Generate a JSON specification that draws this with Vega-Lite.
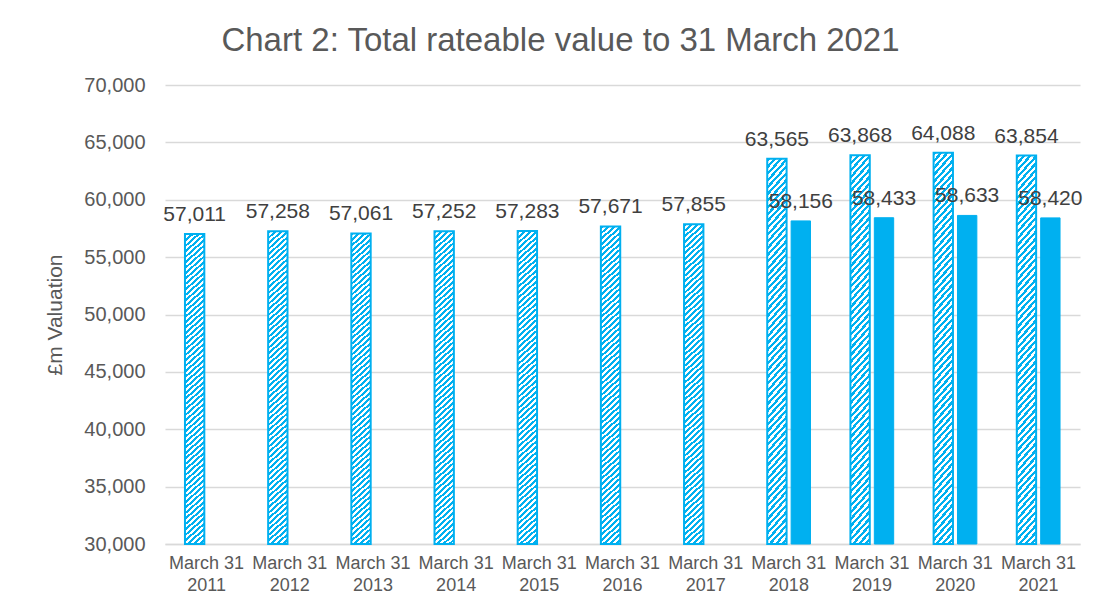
{
  "$schema": "https://vega.github.io/schema/vega-lite/v6.json",
  "width": 915,
  "height": 459,
  "autosize": {"type": "none"},
  "padding": {"left": 165, "top": 85, "right": 21, "bottom": 63},
  "background": "white",
  "config": {
    "font": "Liberation Sans",
    "view": {"stroke": null}
  },
  "title": {
    "text": "Chart 2: Total rateable value to 31 March 2021",
    "fontSize": 33,
    "fontWeight": "normal",
    "color": "#595959",
    "anchor": "middle",
    "dx": -62,
    "offset": 17
  },
  "data": {
    "values": [
      {"year": "2011", "series": "2010 list", "value": 57011},
      {"year": "2012", "series": "2010 list", "value": 57258},
      {"year": "2013", "series": "2010 list", "value": 57061},
      {"year": "2014", "series": "2010 list", "value": 57252},
      {"year": "2015", "series": "2010 list", "value": 57283},
      {"year": "2016", "series": "2010 list", "value": 57671},
      {"year": "2017", "series": "2010 list", "value": 57855},
      {"year": "2018", "series": "2010 list", "value": 63565},
      {"year": "2019", "series": "2010 list", "value": 63868},
      {"year": "2020", "series": "2010 list", "value": 64088},
      {"year": "2021", "series": "2010 list", "value": 63854},
      {"year": "2018", "series": "2017 list", "value": 58156},
      {"year": "2019", "series": "2017 list", "value": 58433},
      {"year": "2020", "series": "2017 list", "value": 58633},
      {"year": "2021", "series": "2017 list", "value": 58420}
    ]
  },
  "encoding": {
    "x": {
      "field": "year",
      "type": "nominal",
      "sort": null,
      "scale": {"paddingInner": 0.48, "paddingOuter": 0.24},
      "axis": {
        "title": null,
        "labelAngle": 0,
        "labelExpr": "['March 31', datum.label]",
        "labelFontSize": 18,
        "labelColor": "#595959",
        "labelLineHeight": 22,
        "labelPadding": 10,
        "ticks": false,
        "domainColor": "#D9D9D9",
        "domainWidth": 1.5
      }
    },
    "xOffset": {
      "field": "series",
      "type": "nominal",
      "scale": {"domain": ["2010 list", "2017 list"], "paddingInner": 0.19}
    },
    "y": {
      "field": "value",
      "type": "quantitative",
      "scale": {"domain": [30000, 70000], "nice": false, "zero": false},
      "axis": {
        "title": "£m Valuation",
        "titleFontSize": 21,
        "titleFontWeight": "normal",
        "titleColor": "#595959",
        "titlePadding": 18,
        "values": [30000, 35000, 40000, 45000, 50000, 55000, 60000, 65000, 70000],
        "labelExpr": "format(datum.value, ',')",
        "labelFontSize": 20,
        "labelColor": "#595959",
        "labelPadding": 20,
        "ticks": false,
        "domain": false,
        "gridColor": "#D9D9D9",
        "gridWidth": 1.5
      }
    }
  },
  "layer": [
    {
      "transform": [{"filter": "datum.series === '2010 list'"}],
      "mark": {
        "type": "bar",
        "stroke": "#00B0F0",
        "strokeWidth": 2,
        "fill": {
          "gradient": "linear",
          "x1": 0, "y1": 0, "x2": 0.05846, "y2": 1.05231,
          "stops": [
            {"offset":0,"color":"#00b0f0"},{"offset":0.0083,"color":"#00b0f0"},{"offset":0.0083,"color":"#fff"},{"offset":0.0167,"color":"#fff"},
            {"offset":0.0167,"color":"#00b0f0"},{"offset":0.025,"color":"#00b0f0"},{"offset":0.025,"color":"#fff"},{"offset":0.0333,"color":"#fff"},
            {"offset":0.0333,"color":"#00b0f0"},{"offset":0.0417,"color":"#00b0f0"},{"offset":0.0417,"color":"#fff"},{"offset":0.05,"color":"#fff"},
            {"offset":0.05,"color":"#00b0f0"},{"offset":0.0583,"color":"#00b0f0"},{"offset":0.0583,"color":"#fff"},{"offset":0.0667,"color":"#fff"},
            {"offset":0.0667,"color":"#00b0f0"},{"offset":0.075,"color":"#00b0f0"},{"offset":0.075,"color":"#fff"},{"offset":0.0833,"color":"#fff"},
            {"offset":0.0833,"color":"#00b0f0"},{"offset":0.0917,"color":"#00b0f0"},{"offset":0.0917,"color":"#fff"},{"offset":0.1,"color":"#fff"},
            {"offset":0.1,"color":"#00b0f0"},{"offset":0.1083,"color":"#00b0f0"},{"offset":0.1083,"color":"#fff"},{"offset":0.1167,"color":"#fff"},
            {"offset":0.1167,"color":"#00b0f0"},{"offset":0.125,"color":"#00b0f0"},{"offset":0.125,"color":"#fff"},{"offset":0.1333,"color":"#fff"},
            {"offset":0.1333,"color":"#00b0f0"},{"offset":0.1417,"color":"#00b0f0"},{"offset":0.1417,"color":"#fff"},{"offset":0.15,"color":"#fff"},
            {"offset":0.15,"color":"#00b0f0"},{"offset":0.1583,"color":"#00b0f0"},{"offset":0.1583,"color":"#fff"},{"offset":0.1667,"color":"#fff"},
            {"offset":0.1667,"color":"#00b0f0"},{"offset":0.175,"color":"#00b0f0"},{"offset":0.175,"color":"#fff"},{"offset":0.1833,"color":"#fff"},
            {"offset":0.1833,"color":"#00b0f0"},{"offset":0.1917,"color":"#00b0f0"},{"offset":0.1917,"color":"#fff"},{"offset":0.2,"color":"#fff"},
            {"offset":0.2,"color":"#00b0f0"},{"offset":0.2083,"color":"#00b0f0"},{"offset":0.2083,"color":"#fff"},{"offset":0.2167,"color":"#fff"},
            {"offset":0.2167,"color":"#00b0f0"},{"offset":0.225,"color":"#00b0f0"},{"offset":0.225,"color":"#fff"},{"offset":0.2333,"color":"#fff"},
            {"offset":0.2333,"color":"#00b0f0"},{"offset":0.2417,"color":"#00b0f0"},{"offset":0.2417,"color":"#fff"},{"offset":0.25,"color":"#fff"},
            {"offset":0.25,"color":"#00b0f0"},{"offset":0.2583,"color":"#00b0f0"},{"offset":0.2583,"color":"#fff"},{"offset":0.2667,"color":"#fff"},
            {"offset":0.2667,"color":"#00b0f0"},{"offset":0.275,"color":"#00b0f0"},{"offset":0.275,"color":"#fff"},{"offset":0.2833,"color":"#fff"},
            {"offset":0.2833,"color":"#00b0f0"},{"offset":0.2917,"color":"#00b0f0"},{"offset":0.2917,"color":"#fff"},{"offset":0.3,"color":"#fff"},
            {"offset":0.3,"color":"#00b0f0"},{"offset":0.3083,"color":"#00b0f0"},{"offset":0.3083,"color":"#fff"},{"offset":0.3167,"color":"#fff"},
            {"offset":0.3167,"color":"#00b0f0"},{"offset":0.325,"color":"#00b0f0"},{"offset":0.325,"color":"#fff"},{"offset":0.3333,"color":"#fff"},
            {"offset":0.3333,"color":"#00b0f0"},{"offset":0.3417,"color":"#00b0f0"},{"offset":0.3417,"color":"#fff"},{"offset":0.35,"color":"#fff"},
            {"offset":0.35,"color":"#00b0f0"},{"offset":0.3583,"color":"#00b0f0"},{"offset":0.3583,"color":"#fff"},{"offset":0.3667,"color":"#fff"},
            {"offset":0.3667,"color":"#00b0f0"},{"offset":0.375,"color":"#00b0f0"},{"offset":0.375,"color":"#fff"},{"offset":0.3833,"color":"#fff"},
            {"offset":0.3833,"color":"#00b0f0"},{"offset":0.3917,"color":"#00b0f0"},{"offset":0.3917,"color":"#fff"},{"offset":0.4,"color":"#fff"},
            {"offset":0.4,"color":"#00b0f0"},{"offset":0.4083,"color":"#00b0f0"},{"offset":0.4083,"color":"#fff"},{"offset":0.4167,"color":"#fff"},
            {"offset":0.4167,"color":"#00b0f0"},{"offset":0.425,"color":"#00b0f0"},{"offset":0.425,"color":"#fff"},{"offset":0.4333,"color":"#fff"},
            {"offset":0.4333,"color":"#00b0f0"},{"offset":0.4417,"color":"#00b0f0"},{"offset":0.4417,"color":"#fff"},{"offset":0.45,"color":"#fff"},
            {"offset":0.45,"color":"#00b0f0"},{"offset":0.4583,"color":"#00b0f0"},{"offset":0.4583,"color":"#fff"},{"offset":0.4667,"color":"#fff"},
            {"offset":0.4667,"color":"#00b0f0"},{"offset":0.475,"color":"#00b0f0"},{"offset":0.475,"color":"#fff"},{"offset":0.4833,"color":"#fff"},
            {"offset":0.4833,"color":"#00b0f0"},{"offset":0.4917,"color":"#00b0f0"},{"offset":0.4917,"color":"#fff"},{"offset":0.5,"color":"#fff"},
            {"offset":0.5,"color":"#00b0f0"},{"offset":0.5083,"color":"#00b0f0"},{"offset":0.5083,"color":"#fff"},{"offset":0.5167,"color":"#fff"},
            {"offset":0.5167,"color":"#00b0f0"},{"offset":0.525,"color":"#00b0f0"},{"offset":0.525,"color":"#fff"},{"offset":0.5333,"color":"#fff"},
            {"offset":0.5333,"color":"#00b0f0"},{"offset":0.5417,"color":"#00b0f0"},{"offset":0.5417,"color":"#fff"},{"offset":0.55,"color":"#fff"},
            {"offset":0.55,"color":"#00b0f0"},{"offset":0.5583,"color":"#00b0f0"},{"offset":0.5583,"color":"#fff"},{"offset":0.5667,"color":"#fff"},
            {"offset":0.5667,"color":"#00b0f0"},{"offset":0.575,"color":"#00b0f0"},{"offset":0.575,"color":"#fff"},{"offset":0.5833,"color":"#fff"},
            {"offset":0.5833,"color":"#00b0f0"},{"offset":0.5917,"color":"#00b0f0"},{"offset":0.5917,"color":"#fff"},{"offset":0.6,"color":"#fff"},
            {"offset":0.6,"color":"#00b0f0"},{"offset":0.6083,"color":"#00b0f0"},{"offset":0.6083,"color":"#fff"},{"offset":0.6167,"color":"#fff"},
            {"offset":0.6167,"color":"#00b0f0"},{"offset":0.625,"color":"#00b0f0"},{"offset":0.625,"color":"#fff"},{"offset":0.6333,"color":"#fff"},
            {"offset":0.6333,"color":"#00b0f0"},{"offset":0.6417,"color":"#00b0f0"},{"offset":0.6417,"color":"#fff"},{"offset":0.65,"color":"#fff"},
            {"offset":0.65,"color":"#00b0f0"},{"offset":0.6583,"color":"#00b0f0"},{"offset":0.6583,"color":"#fff"},{"offset":0.6667,"color":"#fff"},
            {"offset":0.6667,"color":"#00b0f0"},{"offset":0.675,"color":"#00b0f0"},{"offset":0.675,"color":"#fff"},{"offset":0.6833,"color":"#fff"},
            {"offset":0.6833,"color":"#00b0f0"},{"offset":0.6917,"color":"#00b0f0"},{"offset":0.6917,"color":"#fff"},{"offset":0.7,"color":"#fff"},
            {"offset":0.7,"color":"#00b0f0"},{"offset":0.7083,"color":"#00b0f0"},{"offset":0.7083,"color":"#fff"},{"offset":0.7167,"color":"#fff"},
            {"offset":0.7167,"color":"#00b0f0"},{"offset":0.725,"color":"#00b0f0"},{"offset":0.725,"color":"#fff"},{"offset":0.7333,"color":"#fff"},
            {"offset":0.7333,"color":"#00b0f0"},{"offset":0.7417,"color":"#00b0f0"},{"offset":0.7417,"color":"#fff"},{"offset":0.75,"color":"#fff"},
            {"offset":0.75,"color":"#00b0f0"},{"offset":0.7583,"color":"#00b0f0"},{"offset":0.7583,"color":"#fff"},{"offset":0.7667,"color":"#fff"},
            {"offset":0.7667,"color":"#00b0f0"},{"offset":0.775,"color":"#00b0f0"},{"offset":0.775,"color":"#fff"},{"offset":0.7833,"color":"#fff"},
            {"offset":0.7833,"color":"#00b0f0"},{"offset":0.7917,"color":"#00b0f0"},{"offset":0.7917,"color":"#fff"},{"offset":0.8,"color":"#fff"},
            {"offset":0.8,"color":"#00b0f0"},{"offset":0.8083,"color":"#00b0f0"},{"offset":0.8083,"color":"#fff"},{"offset":0.8167,"color":"#fff"},
            {"offset":0.8167,"color":"#00b0f0"},{"offset":0.825,"color":"#00b0f0"},{"offset":0.825,"color":"#fff"},{"offset":0.8333,"color":"#fff"},
            {"offset":0.8333,"color":"#00b0f0"},{"offset":0.8417,"color":"#00b0f0"},{"offset":0.8417,"color":"#fff"},{"offset":0.85,"color":"#fff"},
            {"offset":0.85,"color":"#00b0f0"},{"offset":0.8583,"color":"#00b0f0"},{"offset":0.8583,"color":"#fff"},{"offset":0.8667,"color":"#fff"},
            {"offset":0.8667,"color":"#00b0f0"},{"offset":0.875,"color":"#00b0f0"},{"offset":0.875,"color":"#fff"},{"offset":0.8833,"color":"#fff"},
            {"offset":0.8833,"color":"#00b0f0"},{"offset":0.8917,"color":"#00b0f0"},{"offset":0.8917,"color":"#fff"},{"offset":0.9,"color":"#fff"},
            {"offset":0.9,"color":"#00b0f0"},{"offset":0.9083,"color":"#00b0f0"},{"offset":0.9083,"color":"#fff"},{"offset":0.9167,"color":"#fff"},
            {"offset":0.9167,"color":"#00b0f0"},{"offset":0.925,"color":"#00b0f0"},{"offset":0.925,"color":"#fff"},{"offset":0.9333,"color":"#fff"},
            {"offset":0.9333,"color":"#00b0f0"},{"offset":0.9417,"color":"#00b0f0"},{"offset":0.9417,"color":"#fff"},{"offset":0.95,"color":"#fff"},
            {"offset":0.95,"color":"#00b0f0"},{"offset":0.9583,"color":"#00b0f0"},{"offset":0.9583,"color":"#fff"},{"offset":0.9667,"color":"#fff"},
            {"offset":0.9667,"color":"#00b0f0"},{"offset":0.975,"color":"#00b0f0"},{"offset":0.975,"color":"#fff"},{"offset":0.9833,"color":"#fff"},
            {"offset":0.9833,"color":"#00b0f0"},{"offset":0.9917,"color":"#00b0f0"},{"offset":0.9917,"color":"#fff"},{"offset":1,"color":"#fff"}
          ]
        }
      },
      "encoding": {"y2": {"datum": 30000}}
    },
    {
      "transform": [{"filter": "datum.series === '2017 list'"}],
      "mark": {"type": "bar", "fill": "#00B0F0", "stroke": "#00B0F0", "strokeWidth": 1},
      "encoding": {"y2": {"datum": 30000}}
    },
    {
      "mark": {"type": "text", "baseline": "bottom", "dy": -9, "fontSize": 21, "color": "#404040"},
      "encoding": {
        "text": {"field": "value", "type": "quantitative", "format": ","}
      }
    }
  ]
}
